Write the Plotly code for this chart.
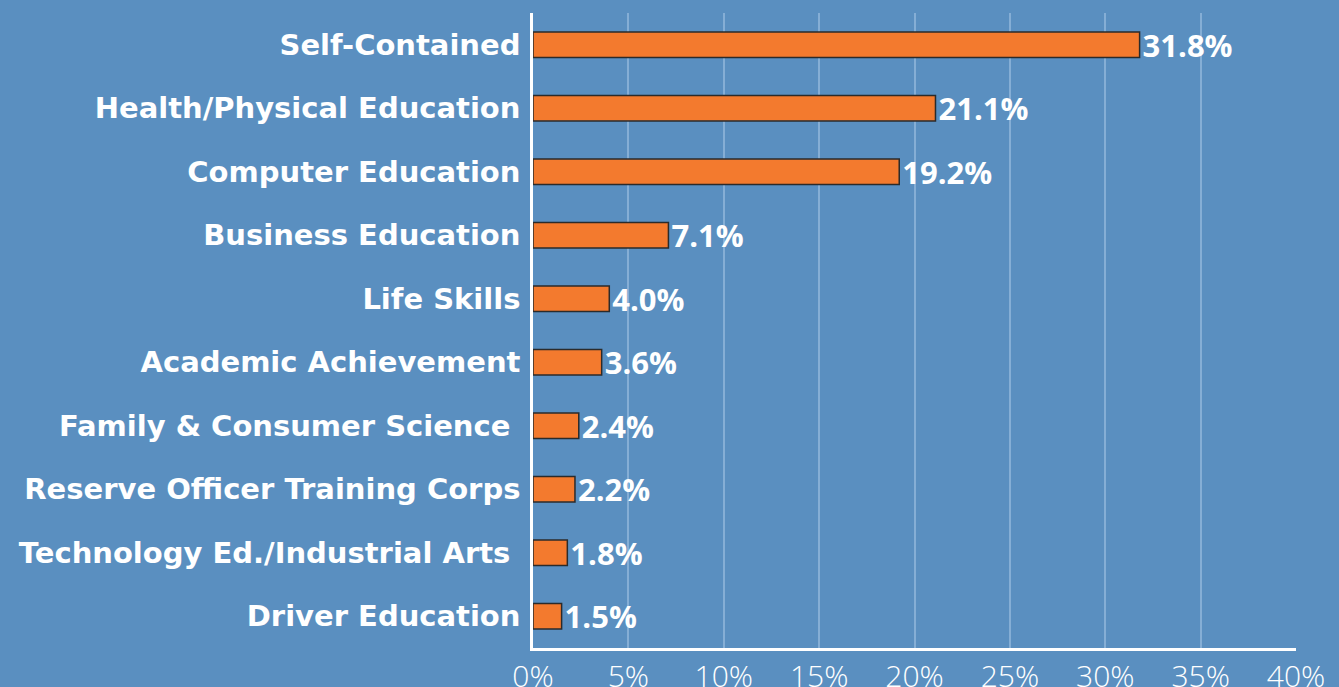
import plotly.graph_objects as go

categories = [
    "Self-Contained",
    "Health/Physical Education",
    "Computer Education",
    "Business Education",
    "Life Skills",
    "Academic Achievement",
    "Family & Consumer Science\u00a0",
    "Reserve Officer Training Corps",
    "Technology Ed./Industrial Arts\u00a0",
    "Driver Education",
]
values = [31.8, 21.1, 19.2, 7.1, 4.0, 3.6, 2.4, 2.2, 1.8, 1.5]
value_labels = ["31.8%", "21.1%", "19.2%", "7.1%", "4.0%", "3.6%", "2.4%", "2.2%", "1.8%", "1.5%"]
tick_vals = [0, 5, 10, 15, 20, 25, 30, 35, 40]
tick_text = ["0%", "5%", "10%", "15%", "20%", "25%", "30%", "35%", "40%"]

fig = go.Figure(
    go.Bar(
        x=values,
        y=categories,
        orientation="h",
        width=0.4,
        marker=dict(color="#F37A2E", line=dict(color="#2b2b2b", width=1.5)),
        text=value_labels,
        textposition="outside",
        constraintext="none",
        textfont=dict(family="Open Sans", size=31, color="white", weight=700),
        cliponaxis=False,
        hoverinfo="skip",
    )
)

fig.update_layout(
    width=1339,
    height=687,
    margin=dict(l=533, r=43, t=13, b=39),
    paper_bgcolor="#5a8fc0",
    plot_bgcolor="rgba(0,0,0,0)",
    showlegend=False,
    xaxis=dict(
        range=[0, 40],
        tickvals=tick_vals,
        ticktext=tick_text,
        showgrid=True,
        gridcolor="rgba(170,200,230,0.55)",
        gridwidth=2,
        zeroline=False,
        showline=True,
        linecolor="white",
        linewidth=2.5,
        ticks="",
        tickfont=dict(family="Open Sans", size=30, color="white", weight=300),
        ticklabelstandoff=0,
        automargin=False,
        fixedrange=True,
    ),
    yaxis=dict(
        autorange="reversed",
        showgrid=False,
        zeroline=False,
        showline=True,
        linecolor="white",
        linewidth=2.5,
        ticks="",
        tickfont=dict(family="DejaVu Sans", size=29, color="white", weight=700),
        ticklabelstandoff=4,
        automargin=False,
        fixedrange=True,
    ),
)

fig.write_html(
    "out.html",
    config={"displayModeBar": False},
    post_script="document.body.style.margin='0';document.body.style.padding='0';",
)
